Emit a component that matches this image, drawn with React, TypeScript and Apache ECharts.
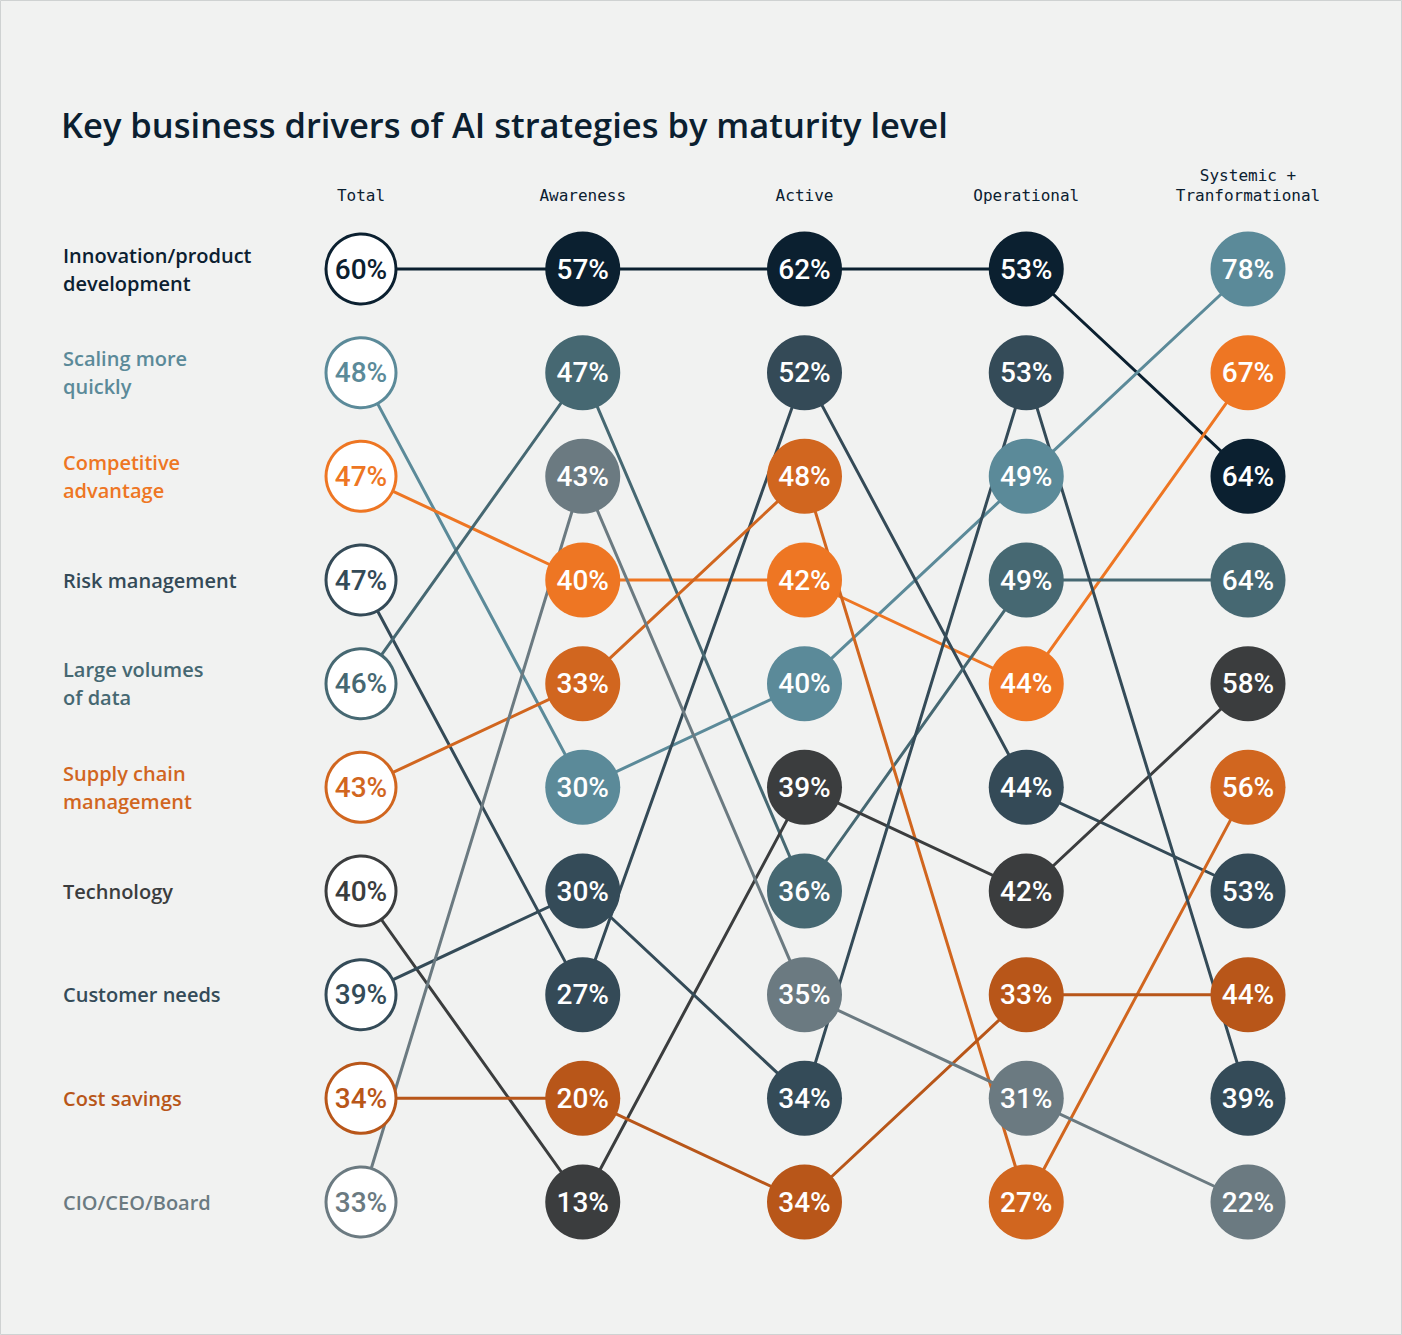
import React, { useEffect, useRef } from "react";
import * as echarts from "echarts";

const columns = ["Total", "Awareness", "Active", "Operational", "Systemic +\nTranformational"];
const categories = [
  "Innovation/product\ndevelopment",
  "Scaling more\nquickly",
  "Competitive\nadvantage",
  "Risk management",
  "Large volumes\nof data",
  "Supply chain\nmanagement",
  "Technology",
  "Customer needs",
  "Cost savings",
  "CIO/CEO/Board",
];
const colors = [
  "#0b2030", "#5b8a99", "#ee7623", "#344a57", "#466872",
  "#d1661f", "#3b3d3e", "#344b58", "#b85619", "#6b7a81",
];
// values per category: [Total, Awareness, Active, Operational, Systemic+Transformational]
const innovation = [60, 57, 62, 53, 64];
const scaling = [48, 30, 40, 49, 78];
const competitive = [47, 40, 42, 44, 67];
const risk = [47, 27, 52, 44, 53];
const largeVolumes = [46, 47, 36, 49, 64];
const supplyChain = [43, 33, 48, 27, 56];
const technology = [40, 13, 39, 42, 58];
const customerNeeds = [39, 30, 34, 53, 39];
const costSavings = [34, 20, 34, 33, 44];
const cioBoard = [33, 43, 35, 31, 22];
const values = [innovation, scaling, competitive, risk, largeVolumes, supplyChain, technology, customerNeeds, costSavings, cioBoard];

function computeRanks(): number[][] {
  // ranks[cat][col] (1 = highest), stable for ties by category order
  const ranks = categories.map(() => [0, 0, 0, 0, 0]);
  for (let c = 0; c < columns.length; c++) {
    const order = categories.map((_, i) => i).sort((a, b) => values[b][c] - values[a][c] || a - b);
    order.forEach((cat, r) => (ranks[cat][c] = r + 1));
  }
  return ranks;
}

export default function App() {
  const ref = useRef<HTMLDivElement>(null);
  useEffect(() => {
    if (!ref.current) return;
    const chart = echarts.init(ref.current, null, { renderer: "svg" });
    const ranks = computeRanks();
    const totalOrder = categories.map((_, i) => i).sort((a, b) => ranks[a][0] - ranks[b][0]);

    const rich: any = {};
    categories.forEach((_, i) => {
      rich["c" + i] = {
        color: colors[i],
        fontFamily: "'Open Sans', Lato, sans-serif",
        fontSize: 20,
        fontWeight: 600,
        lineHeight: 28,
        align: "left",
      };
    });

    const lineSeries = categories.map((name, i) => ({
      type: "line",
      name,
      z: 1,
      clip: false,
      symbol: "none",
      silent: true,
      lineStyle: { color: colors[i], width: 3, opacity: 1 },
      data: [[-0.4, ranks[i][0]], ...values[i].map((_, c) => [c, ranks[i][c]])],
    }));

    const points: any[] = [];
    categories.forEach((_, i) => {
      values[i].forEach((v, c) => {
        const isTotal = c === 0;
        points.push({
          value: [c, ranks[i][c], v],
          symbolSize: isTotal ? 70 : 75,
          itemStyle: isTotal
            ? { color: "#ffffff", borderColor: colors[i], borderWidth: 3, opacity: 1 }
            : { color: colors[i], borderWidth: 0, opacity: 1 },
          label: { color: isTotal ? colors[i] : "#ffffff" },
        });
      });
    });

    chart.setOption({
      animation: false,
      backgroundColor: "#f1f2f1",
      title: {
        text: "Key business drivers of AI strategies by maturity level",
        left: 61,
        top: 107,
        padding: 0,
        textStyle: {
          fontFamily: "'Open Sans', Lato, sans-serif",
          fontSize: 34.5,
          fontWeight: 600,
          color: "#0b2030",
        },
      },
      graphic: [
        {
          type: "rect",
          shape: { x: 0.5, y: 0.5, width: 1401, height: 1334 },
          style: { fill: "none", stroke: "#cfd2d2", lineWidth: 1 },
          silent: true,
        },
      ],
      grid: { left: 361, right: 154, top: 269, bottom: 133 },
      xAxis: {
        type: "value",
        position: "top",
        min: 0,
        max: 4,
        interval: 1,
        splitLine: { show: false },
        axisLine: { show: false },
        axisTick: { show: false },
        axisLabel: {
          margin: 64,
          fontFamily: "'DejaVu Sans Mono', 'Liberation Mono', monospace",
          fontSize: 16,
          lineHeight: 20,
          color: "#0b2030",
          formatter: (v: number) => columns[Math.round(v)] ?? "",
        },
      },
      yAxis: {
        type: "value",
        inverse: true,
        min: 1,
        max: 10,
        interval: 1,
        splitLine: { show: false },
        axisLine: { show: false },
        axisTick: { show: false },
        axisLabel: {
          margin: 298,
          align: "left",
          formatter: (v: number) => {
            const cat = totalOrder[Math.round(v) - 1];
            if (cat === undefined) return "";
            return categories[cat]
              .split("\n")
              .map((l) => `{c${cat}|${l}}`)
              .join("\n");
          },
          rich,
        },
      },
      series: [
        ...lineSeries,
        {
          type: "scatter",
          z: 5,
          symbol: "circle",
          silent: true,
          itemStyle: { opacity: 1 },
          label: {
            show: true,
            position: "inside",
            fontFamily: "Roboto, sans-serif",
            fontSize: 28,
            fontWeight: 500,
            formatter: (p: any) => p.value[2] + "%",
          },
          data: points,
        },
      ],
    } as any);
    return () => chart.dispose();
  }, []);
  return (
    <div
      ref={ref}
      style={{ position: "absolute", left: 0, top: 0, width: 1402, height: 1335 }}
    />
  );
}
